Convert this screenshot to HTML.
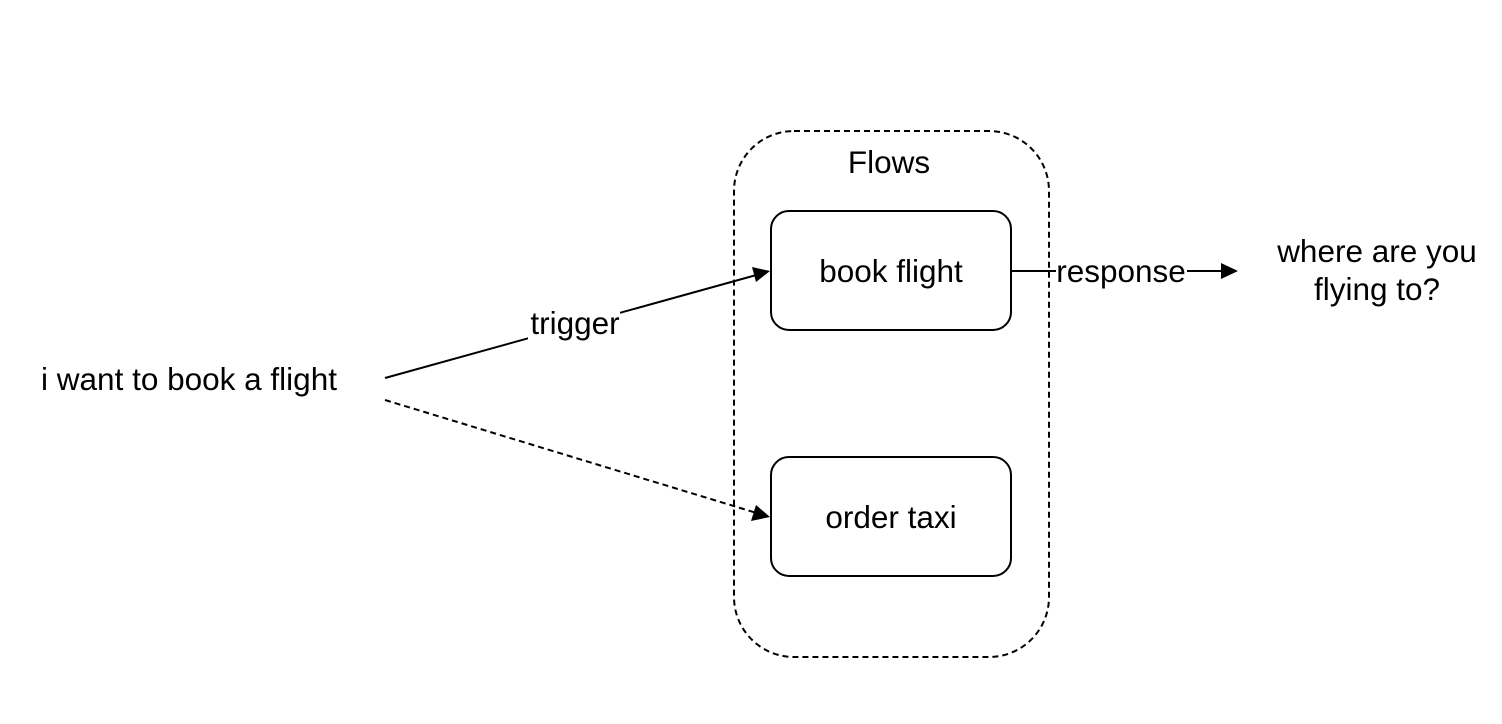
<!DOCTYPE html>
<html><head><style>body{margin:0;background:#fff}svg{display:block}</style></head><body>
<svg width="1502" height="724" xmlns="http://www.w3.org/2000/svg" font-family="Liberation Sans, Arial, sans-serif" font-size="31.5">
<rect x="734" y="131" width="315" height="526" rx="60" fill="none" stroke="#000" stroke-width="2" stroke-dasharray="6,4"/>
<text x="889" y="173" text-anchor="middle">Flows</text>
<rect x="771" y="211" width="240" height="119" rx="18" fill="#fff" stroke="#000" stroke-width="2"/>
<text x="891" y="282" text-anchor="middle">book flight</text>
<rect x="771" y="457" width="240" height="119" rx="18" fill="#fff" stroke="#000" stroke-width="2"/>
<text x="891" y="528" text-anchor="middle">order taxi</text>
<text x="189" y="390" text-anchor="middle">i want to book a flight</text>
<text x="1377" y="262" text-anchor="middle">where are you</text>
<text x="1377" y="300" text-anchor="middle">flying to?</text>
<line x1="385" y1="378" x2="760" y2="274" stroke="#000" stroke-width="2"/>
<polygon points="770,271 752,267 756,282" fill="#000"/>
<rect x="528" y="308" width="92" height="32" fill="#fff"/>
<text x="575" y="334" text-anchor="middle">trigger</text>
<line x1="385" y1="400" x2="760" y2="514" stroke="#000" stroke-width="2" stroke-dasharray="6,4"/>
<polygon points="770,517 756,505 751,521" fill="#000"/>
<line x1="1011" y1="271" x2="1225" y2="271" stroke="#000" stroke-width="2"/>
<polygon points="1238,271 1221,263 1221,279" fill="#000"/>
<rect x="1056" y="256" width="131" height="32" fill="#fff"/>
<text x="1121" y="282" text-anchor="middle">response</text>
</svg>
</body></html>
